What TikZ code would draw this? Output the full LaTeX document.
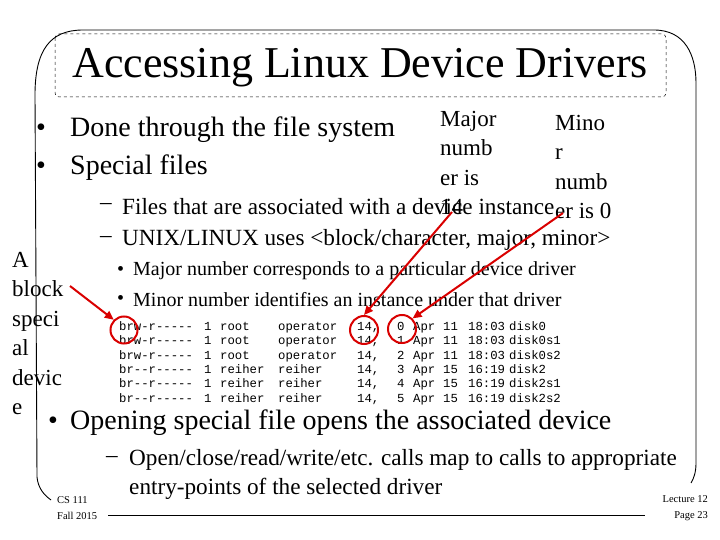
\documentclass[tikz,border=0pt]{standalone}
\usepackage{fontspec}
\setmainfont{Liberation Serif}
\newfontfamily\monof{Liberation Mono}
\usetikzlibrary{arrows.meta}
\begin{document}
\begin{tikzpicture}[x=1pt,y=-1pt,
  txt/.style={anchor=west,inner sep=0pt},
  big/.style={txt,font=\fontsize{28}{30}\selectfont},
  mid/.style={txt,font=\fontsize{23.2}{25}\selectfont},
  sml/.style={txt,font=\fontsize{20}{22}\selectfont},
  lst/.style={anchor=north west,inner sep=0pt,align=left,font=\monof\fontsize{12.3}{14.4}\selectfont},
  ov/.style={anchor=north west,inner sep=0pt,align=left,font=\fontsize{23}{29.5}\selectfont},
  foot/.style={anchor=west,inner sep=0pt,align=left,font=\fontsize{10.5}{16}\selectfont},
  redc/.style={draw=red!85!black,line width=2pt},
  reda/.style={draw=red!85!black,line width=2pt,-{Triangle[length=9pt,width=8pt]}}]
\useasboundingbox (0,0) rectangle (720,540);
% frame
\draw[line width=0.9pt] (37,477) -- (35,95) .. controls (35,50) and (50,30) .. (83,30) -- (654,30) .. controls (685,30) and (696,55) .. (696,83) -- (696,463) .. controls (696,472) and (694,478) .. (691,483);
\draw[line width=0.9pt] (37,477) .. controls (38,488) and (44,495) .. (51,500);
\draw[line width=0.6pt] (108,515) -- (645,515);
\draw[dashed,rounded corners=4pt,line width=0.5pt] (55,34) rectangle (666,97);
\node[inner sep=0pt,font=\fontsize{44}{46}\selectfont] (title) at (360,68) {Accessing Linux Device Drivers};
% bullets
\node[big] (b1d) at (36,130) {•};
\node[big] (b1) at (70,130) {Done through the file system};
\node[big] (b2d) at (36,168) {•};
\node[big] (b2) at (70,168) {Special files};
\node[mid] (s1d) at (100,207) {–};
\node[mid] (s1) at (122,207) {Files that are associated with a device instance};
\node[mid] (s2d) at (100,240) {–};
\node[mid] (s2) at (122,240) {UNIX/LINUX uses <block/character, major, minor>};
\node[sml] (t1d) at (117,271) {•};
\node[sml] (t1) at (133,271) {Major number corresponds to a particular device driver};
\node[sml] (t2d) at (117,300) {•};
\node[sml] (t2) at (133,300) {Minor number identifies an instance under that driver};
% listing
\node[lst] (c1) at (119,320) {\strut brw-r-----\\\strut brw-r-----\\\strut brw-r-----\\\strut br--r-----\\\strut br--r-----\\\strut br--r-----};
\node[lst] (c2) at (204,320) {\strut 1\\\strut 1\\\strut 1\\\strut 1\\\strut 1\\\strut 1};
\node[lst] (c3) at (220,320) {\strut root\\\strut root\\\strut root\\\strut reiher\\\strut reiher\\\strut reiher};
\node[lst] (c4) at (278,320) {\strut operator\\\strut operator\\\strut operator\\\strut reiher\\\strut reiher\\\strut reiher};
\node[lst] (c5) at (357,320) {\strut 14,\\\strut 14,\\\strut 14,\\\strut 14,\\\strut 14,\\\strut 14,};
\node[lst] (c6) at (397,320) {\strut 0\\\strut 1\\\strut 2\\\strut 3\\\strut 4\\\strut 5};
\node[lst] (c7) at (413,320) {\strut Apr\\\strut Apr\\\strut Apr\\\strut Apr\\\strut Apr\\\strut Apr};
\node[lst] (c8) at (443,320) {\strut 11\\\strut 11\\\strut 11\\\strut 15\\\strut 15\\\strut 15};
\node[lst] (c9) at (468,320) {\strut 18:03\\\strut 18:03\\\strut 18:03\\\strut 16:19\\\strut 16:19\\\strut 16:19};
\node[lst] (c10) at (509,320) {\strut disk0\\\strut disk0s1\\\strut disk0s2\\\strut disk2\\\strut disk2s1\\\strut disk2s2};
% overlays
\node[ov] (maj) at (440,111) {Major\\numb\\er is\\14};
\node[ov] (min) at (555,115) {Mino\\r\\numb\\er is 0};
\node[ov] (blk) at (12,252) {A\\block\\speci\\al\\devic\\e};
% red marks
\node[redc,circle,minimum size=27pt,inner sep=0pt] (r1) at (124,330) {};
\node[redc,circle,minimum size=28pt,inner sep=0pt] (r2) at (364,330) {};
\node[redc,circle,minimum size=28pt,inner sep=0pt] (r3) at (402,329) {};
\coordinate (a1s) at (70,286);
\coordinate (a2s) at (452,212);
\coordinate (a3s) at (563,213);
\draw[reda] (a1s) -- (r1.north west);
\draw[reda] (a2s) -- (r2.north);
\draw[reda] (a3s) -- (r3.north east);
% lower bullets
\node[big] (b3d) at (48,423) {•};
\node[big] (b3) at (70,423) {Opening special file opens the associated device};
\node[mid] (s3d) at (106,460) {–};
\node[mid] (s3) at (129,460) {Open/close/read/write/etc. calls map to calls to appropriate};
\node[mid] (s4) at (129,489) {entry-points of the selected driver};
% footer
\node[foot] (cs) at (57,508) {CS 111\\Fall 2015};
\node[foot,align=right,anchor=east] (lec) at (708,508) {Lecture 12\\Page 23};
\end{tikzpicture}
\end{document}
